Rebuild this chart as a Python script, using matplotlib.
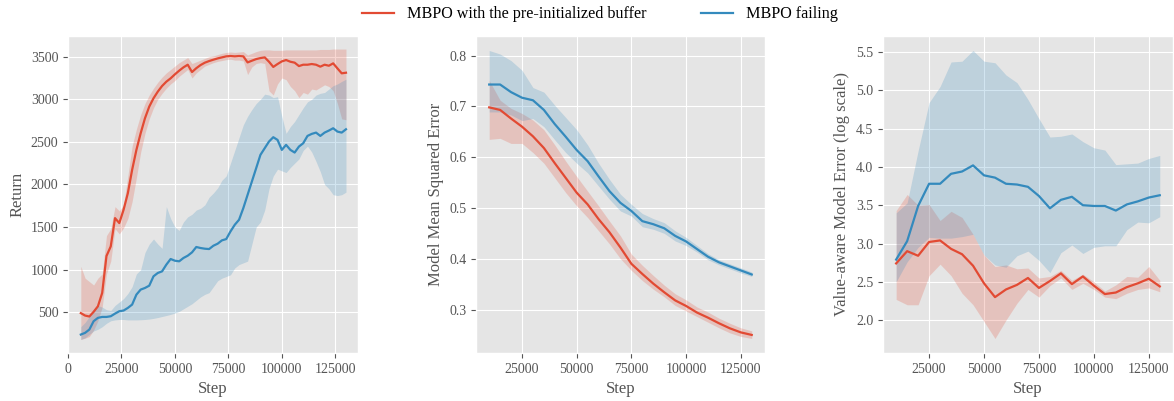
import matplotlib
matplotlib.use('Agg')
import matplotlib.pyplot as plt
import numpy as np

plt.style.use('ggplot')
plt.rcParams['font.family'] = ['Liberation Serif', 'DejaVu Serif']

# --- Return (evaluation every 2000 steps) ---
ret_steps = np.arange(6000, 130001, 2000)

ret_red = [490, 461, 450, 505, 570, 727, 1160, 1273, 1605, 1547,
           1703, 1898, 2172, 2406, 2602, 2777, 2914, 3012, 3090, 3156,
           3207, 3246, 3293, 3336, 3375, 3406, 3320, 3365, 3402, 3430,
           3449, 3465, 3480, 3492, 3504, 3508, 3504, 3508, 3504, 3433,
           3453, 3472, 3484, 3492, 3441, 3380, 3414, 3445, 3461, 3441,
           3430, 3390, 3406, 3406, 3414, 3406, 3383, 3406, 3394, 3422,
           3363, 3305, 3312]
ret_red_lo = [180, 195, 215, 290, 400, 560, 950, 1100, 1480, 1420,
              1490, 1600, 1800, 2080, 2380, 2600, 2770, 2900, 3000, 3070,
              3130, 3180, 3220, 3270, 3310, 3350, 3250, 3310, 3350, 3390,
              3410, 3430, 3445, 3455, 3465, 3470, 3460, 3460, 3450, 3290,
              3380, 3420, 3430, 3420, 3100, 3050, 3180, 3250, 3230, 3150,
              3100, 3020, 3080, 3060, 3120, 3110, 3140, 3170, 3150, 3100,
              2950, 2770, 2760]
ret_red_hi = [1040, 900, 860, 820, 900, 950, 1400, 1480, 1740, 1690,
              1760, 2100, 2450, 2650, 2820, 2950, 3050, 3130, 3200, 3260,
              3310, 3350, 3390, 3430, 3460, 3490, 3420, 3440, 3460, 3480,
              3500, 3510, 3525, 3540, 3550, 3555, 3550, 3555, 3560, 3520,
              3540, 3560, 3575, 3580, 3580, 3575, 3575, 3575, 3580, 3580,
              3580, 3580, 3580, 3580, 3580, 3580, 3585, 3585, 3585, 3590,
              3590, 3590, 3590]

ret_blue = [238, 258, 297, 395, 434, 445, 445, 453, 484, 512,
            520, 551, 590, 707, 766, 785, 812, 922, 961, 980,
            1059, 1125, 1105, 1098, 1137, 1164, 1203, 1266, 1254, 1246,
            1242, 1281, 1305, 1344, 1359, 1449, 1527, 1586, 1723, 1879,
            2035, 2191, 2348, 2426, 2504, 2555, 2523, 2406, 2465, 2406,
            2375, 2445, 2484, 2570, 2594, 2609, 2570, 2609, 2633, 2660,
            2621, 2609, 2648]
ret_blue_lo = [180, 200, 240, 280, 300, 330, 370, 400, 410, 415,
               415, 410, 410, 410, 412, 415, 420, 428, 438, 450,
               462, 475, 490, 510, 540, 570, 600, 640, 680, 710,
               730, 800, 870, 900, 920, 940, 1020, 1060, 1080, 1100,
               1300, 1500, 1560, 1700, 1950, 2100, 2180, 2160, 2140, 2200,
               2250, 2300, 2400, 2450, 2380, 2270, 2150, 2000, 1950, 1880,
               1870, 1880, 1910]
ret_blue_hi = [330, 380, 450, 540, 580, 560, 530, 520, 580, 620,
               660, 720, 800, 950, 1000, 1200, 1300, 1360, 1300, 1250,
               1740, 1600, 1500, 1460, 1560, 1620, 1650, 1700, 1720, 1760,
               1850, 1900, 1960, 2050, 2100, 2250, 2400, 2550, 2700, 2800,
               2880, 2950, 3000, 3060, 3050, 3020, 3030, 2800, 2600, 2680,
               2740, 2820, 2900, 2970, 3000, 3050, 3070, 3080, 3120, 3160,
               3180, 3210, 3236]

# --- Model MSE and value-aware error (every 5000 steps) ---
err_steps = np.arange(10000, 130001, 5000)

mse_red = [0.698, 0.693, 0.676, 0.660, 0.641, 0.618, 0.588, 0.559, 0.530, 0.507,
           0.478, 0.452, 0.422, 0.390, 0.370, 0.351, 0.334, 0.318, 0.307, 0.294,
           0.284, 0.273, 0.263, 0.255, 0.250]
mse_red_lo = [0.635, 0.637, 0.627, 0.627, 0.609, 0.588, 0.559, 0.530, 0.504, 0.481,
              0.455, 0.429, 0.400, 0.377, 0.357, 0.340, 0.325, 0.308, 0.297, 0.286,
              0.275, 0.264, 0.254, 0.247, 0.243]
mse_red_hi = [0.751, 0.712, 0.696, 0.686, 0.673, 0.654, 0.624, 0.592, 0.562, 0.533,
              0.504, 0.474, 0.445, 0.409, 0.387, 0.367, 0.348, 0.331, 0.319, 0.305,
              0.295, 0.283, 0.273, 0.264, 0.258]
mse_blue = [0.743, 0.743, 0.728, 0.717, 0.712, 0.693, 0.665, 0.640, 0.614, 0.592,
            0.562, 0.533, 0.510, 0.494, 0.474, 0.468, 0.460, 0.445, 0.434, 0.419,
            0.404, 0.393, 0.385, 0.377, 0.369]
mse_blue_lo = [0.689, 0.689, 0.683, 0.672, 0.676, 0.660, 0.634, 0.609, 0.588, 0.569,
               0.543, 0.517, 0.494, 0.484, 0.463, 0.458, 0.450, 0.435, 0.426, 0.413,
               0.398, 0.388, 0.380, 0.372, 0.365]
mse_blue_hi = [0.810, 0.803, 0.790, 0.771, 0.737, 0.728, 0.702, 0.678, 0.654, 0.624,
               0.588, 0.556, 0.527, 0.507, 0.489, 0.479, 0.471, 0.455, 0.442, 0.426,
               0.410, 0.398, 0.390, 0.382, 0.374]

vae_red = [2.74, 2.90, 2.84, 3.02, 3.04, 2.93, 2.86, 2.71, 2.48, 2.30,
           2.40, 2.46, 2.55, 2.42, 2.51, 2.61, 2.47, 2.57, 2.45, 2.34,
           2.36, 2.43, 2.48, 2.54, 2.44]
vae_red_lo = [2.27, 2.20, 2.20, 2.58, 2.73, 2.58, 2.35, 2.20, 1.98, 1.76,
              2.00, 2.22, 2.40, 2.30, 2.45, 2.55, 2.40, 2.48, 2.40, 2.30,
              2.28, 2.35, 2.40, 2.42, 2.37]
vae_red_hi = [3.43, 3.64, 3.50, 3.51, 3.30, 3.42, 3.34, 3.12, 2.85, 2.70,
              2.72, 2.67, 2.68, 2.55, 2.57, 2.65, 2.52, 2.60, 2.50, 2.38,
              2.46, 2.57, 2.56, 2.70, 2.52]
vae_blue = [2.79, 3.03, 3.49, 3.78, 3.78, 3.91, 3.94, 4.02, 3.89, 3.86,
            3.78, 3.77, 3.74, 3.62, 3.46, 3.57, 3.61, 3.50, 3.49, 3.49,
            3.43, 3.51, 3.55, 3.60, 3.63]
vae_blue_lo = [2.50, 2.76, 2.95, 3.08, 3.07, 3.07, 3.09, 3.12, 2.85, 2.72,
               2.69, 2.84, 2.90, 2.78, 2.62, 2.88, 2.98, 2.87, 2.95, 2.97,
               2.97, 3.18, 3.28, 3.27, 3.35]
vae_blue_hi = [3.40, 3.53, 4.21, 4.84, 5.05, 5.37, 5.38, 5.52, 5.38, 5.36,
               5.20, 5.10, 4.88, 4.63, 4.39, 4.40, 4.43, 4.33, 4.25, 4.22,
               4.03, 4.04, 4.05, 4.11, 4.15]

labels = ['MBPO with the pre-initialized buffer', 'MBPO failing']
red, blue = '#E24A33', '#348ABD'

fig = plt.figure(figsize=(11.74, 4.01), dpi=100)
ax1 = fig.add_axes([0.0579, 0.120, 0.247, 0.790])
ax2 = fig.add_axes([0.4055, 0.120, 0.246, 0.790])
ax3 = fig.add_axes([0.7521, 0.120, 0.247, 0.790])

panels = [
    (ax1, ret_steps, (ret_red, ret_red_lo, ret_red_hi), (ret_blue, ret_blue_lo, ret_blue_hi), 'Return'),
    (ax2, err_steps, (mse_red, mse_red_lo, mse_red_hi), (mse_blue, mse_blue_lo, mse_blue_hi), 'Model Mean Squared Error'),
    (ax3, err_steps, (vae_red, vae_red_lo, vae_red_hi), (vae_blue, vae_blue_lo, vae_blue_hi), 'Value-aware Model Error (log scale)'),
]

for ax, x, r, b, ylab in panels:
    for (m, lo, hi), c, lab in [(r, red, labels[0]), (b, blue, labels[1])]:
        ax.fill_between(x, lo, hi, color=c, alpha=0.22, linewidth=0)
        ax.plot(x, m, color=c, lw=1.6, label=lab)
    ax.set_xlabel('Step', fontsize=12, color='#555555')
    ax.set_ylabel(ylab, fontsize=12, color='#555555')
    ax.tick_params(labelsize=10, colors='#555555')

ax1.set_xlim(0, 135600)
ax1.set_xticks([0, 25000, 50000, 75000, 100000, 125000])
ax1.set_ylim(23, 3742)
ax1.set_yticks([500, 1000, 1500, 2000, 2500, 3000, 3500])
ax2.set_xticks([25000, 50000, 75000, 100000, 125000])
ax3.set_xticks([25000, 50000, 75000, 100000, 125000])
ax3.set_yticks([2.0, 2.5, 3.0, 3.5, 4.0, 4.5, 5.0, 5.5])

h, l = ax1.get_legend_handles_labels()
fig.legend(h, l, loc='upper center', ncol=2, frameon=False,
           bbox_to_anchor=(0.511, 1.02), fontsize=11.6, handlelength=2.0,
           columnspacing=3.4)

fig.savefig('out.png', dpi=100)
